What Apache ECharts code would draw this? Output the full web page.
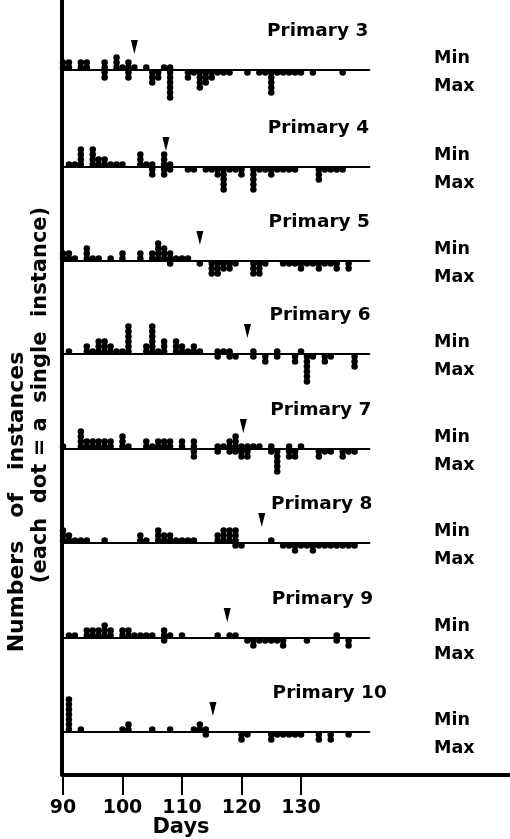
<!DOCTYPE html>
<html><head><meta charset="utf-8">
<script src="https://cdn.jsdelivr.net/npm/echarts@6/dist/echarts.min.js"></script>
<style>html,body{margin:0;padding:0;background:#fff}#c{width:510px;height:839px}</style>
</head><body><div id="c"></div>
<script>
// ---- data: [day, number of instances] ----
const panelNames = ['Primary 3','Primary 4','Primary 5','Primary 6','Primary 7','Primary 8','Primary 9','Primary 10'];
const p3Min = [[90,2],[91,2],[93,2],[94,2],[97,2],[99,3],[100,1],[101,2],[102,1],[104,1],[107,1],[108,1]];
const p3Max = [[97,2],[101,2],[105,3],[106,2],[108,6],[111,2],[112,1],[113,4],[114,3],[115,2],[116,1],[117,1],[118,1],[121,1],[123,1],[124,1],[125,5],[126,1],[127,1],[128,1],[129,1],[130,1],[132,1],[137,1]];
const p4Min = [[91,1],[92,1],[93,4],[95,4],[96,2],[97,2],[98,1],[99,1],[100,1],[103,3],[104,1],[105,1],[107,3],[108,1]];
const p4Max = [[105,2],[107,2],[108,1],[111,1],[112,1],[114,1],[115,1],[116,2],[117,5],[118,1],[119,1],[120,2],[122,5],[123,1],[124,1],[125,2],[126,1],[127,1],[128,1],[129,1],[133,3],[134,1],[135,1],[136,1],[137,1]];
const p5Min = [[90,2],[91,2],[92,1],[94,3],[95,1],[96,1],[98,1],[100,2],[103,2],[105,2],[106,4],[107,3],[108,2],[109,1],[110,1],[111,1]];
const p5Max = [[108,1],[113,1],[115,3],[116,3],[117,2],[118,2],[119,1],[122,3],[123,3],[124,1],[127,1],[128,1],[129,1],[130,2],[131,1],[132,1],[133,2],[134,1],[135,1],[136,2],[138,2]];
const p6Min = [[91,1],[94,2],[95,1],[96,3],[97,3],[98,2],[99,1],[100,1],[101,6],[104,2],[105,6],[106,1],[107,3],[109,3],[110,2],[111,1],[112,2],[113,1],[116,1],[117,1],[118,1],[122,1],[126,1],[130,1]];
const p6Max = [[116,1],[118,1],[119,1],[122,1],[124,2],[126,1],[129,2],[131,6],[132,1],[134,2],[135,1],[139,3]];
const p7Min = [[90,1],[93,4],[94,2],[95,2],[96,2],[97,2],[98,2],[100,3],[101,1],[104,2],[105,1],[106,2],[107,2],[108,2],[110,2],[112,2],[116,1],[117,1],[118,2],[119,3],[120,1],[121,1],[122,1],[123,1],[125,1],[128,1],[130,1]];
const p7Max = [[112,2],[116,1],[118,1],[119,1],[120,2],[121,2],[125,1],[126,5],[128,2],[129,2],[133,2],[134,1],[135,1],[137,2],[138,1],[139,1]];
const p8Min = [[90,3],[91,2],[92,1],[93,1],[94,1],[97,1],[103,2],[104,1],[106,3],[107,2],[108,2],[109,1],[110,1],[111,1],[112,1],[116,2],[117,3],[118,3],[119,3],[125,1]];
const p8Max = [[119,1],[120,1],[127,1],[128,1],[129,2],[130,1],[131,1],[132,2],[133,1],[134,1],[135,1],[136,1],[137,1],[138,1],[139,1]];
const p9Min = [[91,1],[92,1],[94,2],[95,2],[96,2],[97,3],[98,2],[100,2],[101,2],[102,1],[103,1],[104,1],[105,1],[107,2],[108,1],[110,1],[116,1],[118,1],[119,1],[136,1]];
const p9Max = [[107,1],[121,1],[122,2],[123,1],[124,1],[125,1],[126,1],[127,2],[131,1],[136,1],[138,2]];
const p10Min = [[91,7],[93,1],[100,1],[101,2],[105,1],[108,1],[112,1],[113,2],[114,1]];
const p10Max = [[114,1],[120,2],[121,1],[125,2],[126,1],[127,1],[128,1],[129,1],[130,1],[133,2],[135,2],[138,1]];
const arrowDays = [102,107.3,113,121,120.3,123.4,117.6,115.2];
const tickDays = [90,100,110,120,130];

const minSets = [p3Min,p4Min,p5Min,p6Min,p7Min,p8Min,p9Min,p10Min];
const maxSets = [p3Max,p4Max,p5Max,p6Max,p7Max,p8Max,p9Max,p10Max];

// ---- layout ----
const lineY = [70,167,261,354,449,543,638,732];
const FONT = '"DejaVu Sans", "Liberation Sans", sans-serif';
const pxPerDay = 5.95, left0 = 63;
const panelMax = 141.5;

function stack(sets, sign){
  const pts = [];
  sets.forEach(([d,n]) => { for (let k=1;k<=n;k++) pts.push([d, sign*(k-0.5)]); });
  return pts;
}

const grids = [], xAxes = [], yAxes = [], series = [], graphics = [];
lineY.forEach((ly,i) => {
  grids.push({left:left0, top:ly-40, width:(panelMax-90)*pxPerDay, height:80});
  xAxes.push({type:'value', gridIndex:i, min:90, max:panelMax,
    axisLine:{show:true, onZero:true, lineStyle:{color:'#000', width:2}},
    axisTick:{show:false}, axisLabel:{show:false}, splitLine:{show:false}});
  yAxes.push({type:'value', gridIndex:i, min:-8, max:8, show:false});
  series.push({type:'scatter', xAxisIndex:i, yAxisIndex:i, symbol:'circle', symbolSize:6.5,
    itemStyle:{color:'#000', opacity:1}, silent:true,
    data: stack(minSets[i],1).concat(stack(maxSets[i],-1))});
  series.push({type:'scatter', xAxisIndex:i, yAxisIndex:i,
    symbol:'path://M0,0 L10,0 L5,20 Z', symbolSize:[7,14],
    itemStyle:{color:'#000', opacity:1}, silent:true, data:[[arrowDays[i],4.6]]});
  graphics.push({type:'text', left: 267 + i*0.8, top: ly-48,
    style:{text:panelNames[i], font:'bold 18.5px '+FONT, fill:'#000'}});
  graphics.push({type:'text', left: 434, top: ly-21,
    style:{text:'Min', font:'bold 17.5px '+FONT, fill:'#000'}});
  graphics.push({type:'text', left: 434, top: ly+7,
    style:{text:'Max', font:'bold 17.5px '+FONT, fill:'#000'}});
});

// outer frame axes
const gi = lineY.length;
grids.push({left:left0, top:0, width:447, height:775});
xAxes.push({type:'value', gridIndex:gi, min:90, max:90+447/pxPerDay, position:'bottom',
  axisLine:{show:true, onZero:false, lineStyle:{color:'#000', width:4}},
  axisTick:{show:true, length:20, customValues:tickDays, lineStyle:{color:'#000', width:2}},
  axisLabel:{show:true, customValues:tickDays, margin:24, color:'#000',
    fontSize:19, fontWeight:'bold', fontFamily:FONT},
  splitLine:{show:false}});
yAxes.push({type:'value', gridIndex:gi, min:0, max:1, offset:1.5,
  axisLine:{show:true, onZero:false, lineStyle:{color:'#000', width:4}},
  axisTick:{show:false}, axisLabel:{show:false}, splitLine:{show:false}});

graphics.push({type:'text', x:181, y:828, style:{text:'Days', font:'bold 21px '+FONT, fill:'#000', align:'center', verticalAlign:'middle'}});
graphics.push({type:'text', x:17, y:502, rotation:Math.PI/2,
  style:{text:'Numbers   of   instances', font:'bold 22px '+FONT, fill:'#000', align:'center', verticalAlign:'middle'}});
graphics.push({type:'text', x:41, y:395, rotation:Math.PI/2,
  style:{text:'(each  dot = a  single  instance)', font:'bold 21px '+FONT, fill:'#000', align:'center', verticalAlign:'middle'}});

const chart = echarts.init(document.getElementById('c'), null, {renderer:'canvas'});
chart.setOption({
  animation:false, backgroundColor:'#fff',
  grid:grids, xAxis:xAxes, yAxis:yAxes, series:series, graphic:graphics
});
</script></body></html>
